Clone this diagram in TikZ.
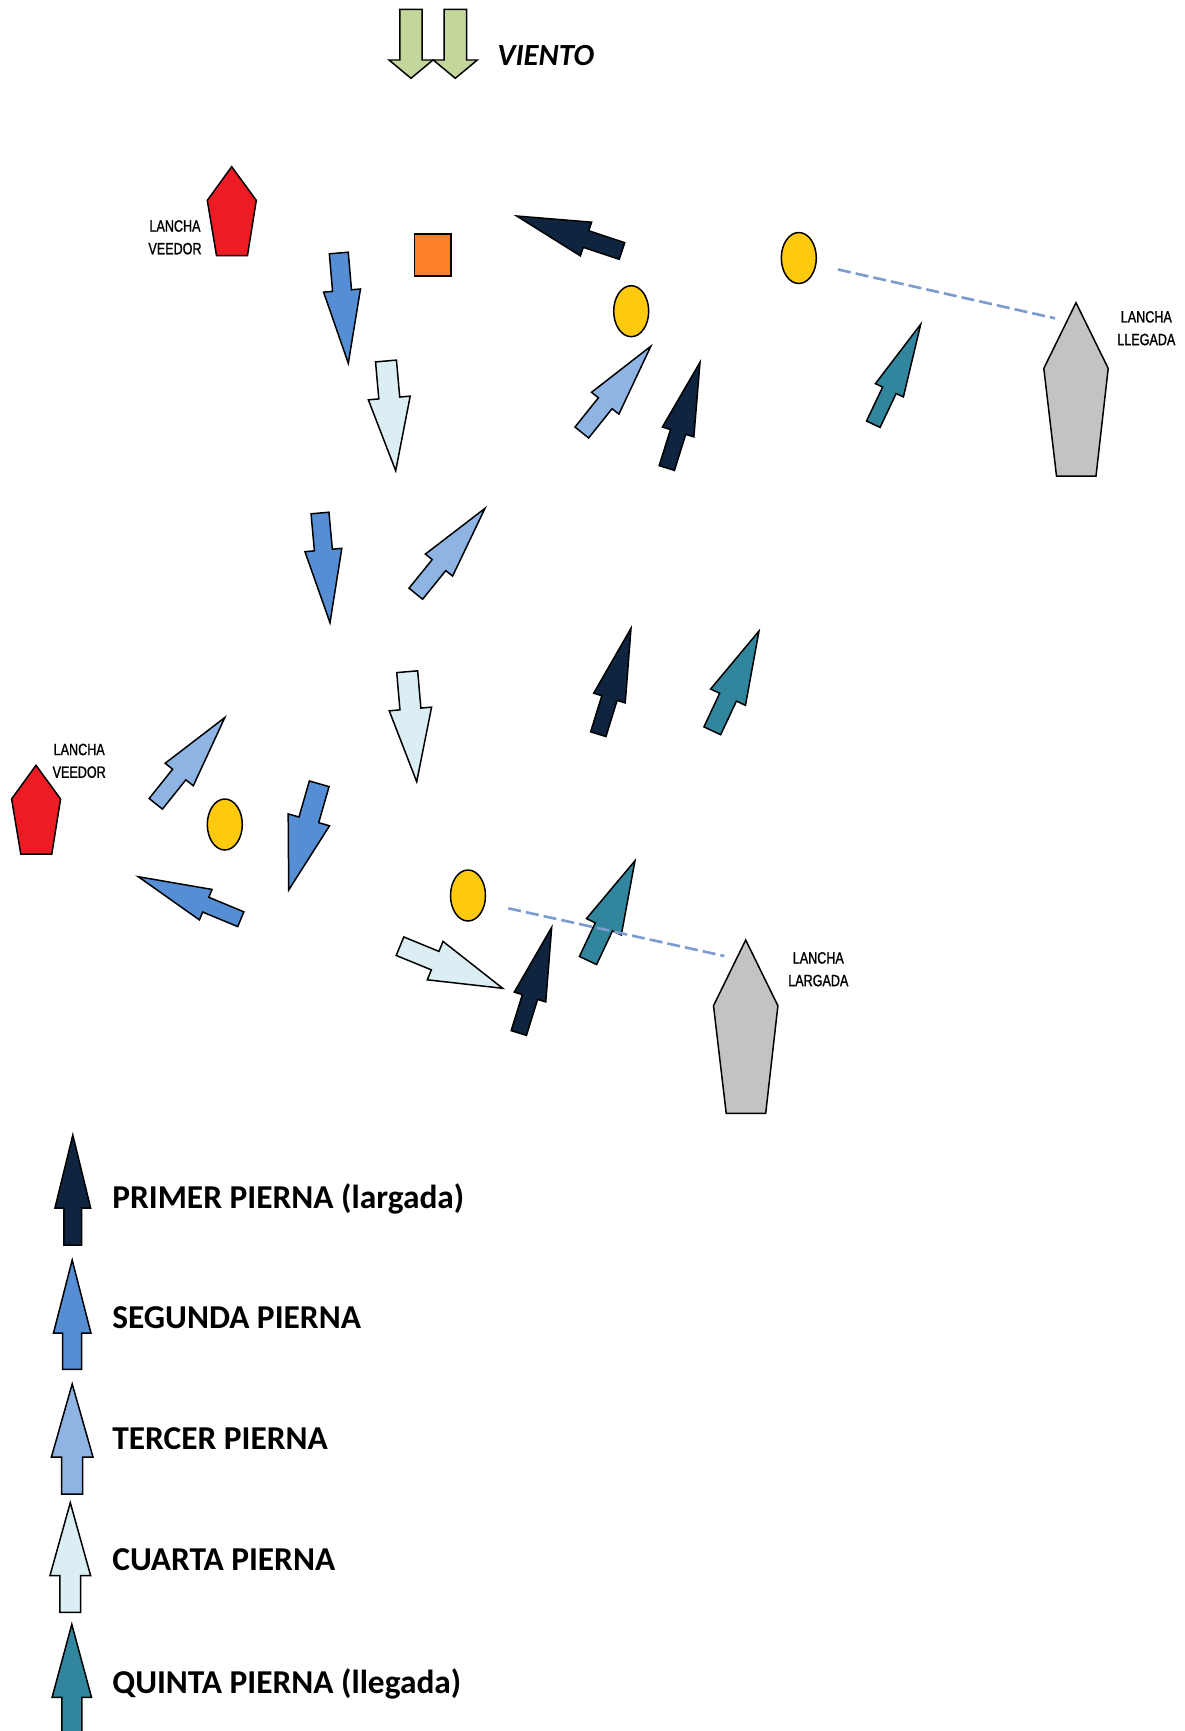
\documentclass[tikz,border=0pt]{standalone}
\usepackage{fontspec}
\setmainfont{Carlito}
\newfontfamily\narrowfont[FakeStretch=0.77, FakeBold=1.2]{Liberation Sans}
\usetikzlibrary{calc,shapes.geometric}

\definecolor{primer}{HTML}{0F243E}
\definecolor{segunda}{HTML}{558ED5}
\definecolor{tercer}{HTML}{8EB4E3}
\definecolor{cuarta}{HTML}{DBEEF4}
\definecolor{quinta}{HTML}{31859C}
\definecolor{viento}{HTML}{C3D69B}
\definecolor{veedor}{HTML}{ED1C24}
\definecolor{lancha}{HTML}{C3C3C3}
\definecolor{boya}{HTML}{FFC90E}
\definecolor{cuadro}{HTML}{FD7F2A}
\definecolor{linea}{HTML}{7C9CD0}

\begin{document}
\begin{tikzpicture}[x=0.02cm, y=-0.02cm,
		legshape/.style={draw=black, line width=0.85pt, line join=miter},
		boatshape/.style={draw=black, line width=0.85pt, fill=lancha},
		veedorshape/.style={draw=black, line width=0.85pt, fill=veedor},
		buoyshape/.style={ellipse, draw=black, line width=0.85pt, fill=boya,
			minimum width=0.7cm, minimum height=1.02cm, inner sep=0pt},
		boatlabel/.style={font=\narrowfont\fontsize{9.3}{12.9}\selectfont, align=center, inner sep=0pt},
		leglabel/.style={font=\bfseries\fontsize{19}{22}\selectfont, anchor=base west, inner sep=0pt},
		startline/.style={draw=linea, line width=1.5pt, dash pattern=on 7.4pt off 2.9pt}]

		\def\headlen{73} % length of arrow heads

		\useasboundingbox (0,0) rectangle (1184,1731);

		% Wind
		\foreach \wx in {411,455.3}
			\draw[legshape, fill=viento] (\wx-11.2,9.3) -- (\wx+11.2,9.3) -- (\wx+11.2,60) -- (\wx+22,60)
				-- (\wx,78.3) -- (\wx-22,60) -- (\wx-11.2,60) -- cycle;
		\node[font=\bfseries\itshape\fontsize{17.5}{20}\selectfont, anchor=base west, inner sep=0pt] (viento) at (497,65) {VIENTO};

		% Boats
		\foreach \bx/\by in {1076/302.7, 745.7/940}
			\draw[boatshape, shift={(\bx,\by)}] (0,0) -- (32.2,65.7) -- (20,173.3) -- (-19.5,173.3) -- (-32.2,65.7) -- cycle;
		\foreach \vx/\vy in {231.7/166.7, 36/765.3}
			\draw[veedorshape, shift={(\vx,\vy)}] (0,0) -- (24.6,33.7) -- (15.8,88.8) -- (-15.2,88.8) -- (-24.4,33.7) -- cycle;

		\node[boatlabel] (veedorA) at (175,237.3) {LANCHA\\VEEDOR};
		\node[boatlabel] (veedorB) at (79.2,760.8) {LANCHA\\VEEDOR};
		\node[boatlabel] (llegada) at (1146.3,328.2) {LANCHA\\LLEGADA};
		\node[boatlabel] (largada) at (818.3,969.2) {LANCHA\\LARGADA};

		% Marks
		\node[buoyshape] (buoyA) at (631.2,311.2) {};
		\node[buoyshape] (buoyB) at (798.8,258) {};
		\node[buoyshape] (buoyC) at (224.8,824.5) {};
		\node[buoyshape] (buoyD) at (468,895.5) {};
		\node[draw=black, line width=0.85pt, fill=cuadro, minimum width=0.734cm, minimum height=0.84cm,
			inner sep=0pt] (pinA) at (432.7,255) {};

		% legs: colour / tail x,y / tip x,y / head width / shaft width
		\foreach \col/\ax/\ay/\bx/\by/\hw/\sw in {
			primer/622/251/516.7/216/35.5/17.5,
			primer/666.8/468/700/362.3/33/16,
			primer/598.3/734.2/631/628.3/33/16,
			primer/518.8/1033/551.7/927.3/33/16,
			segunda/338.8/253/348.3/363.3/37/19,
			segunda/320/513/330/622.7/37/18,
			segunda/319.2/783.8/288.7/890/43/20.5,
			segunda/240.8/919.2/138.3/876.7/33/16,
			tercer/581.8/432.5/651/346/35/17.5,
			tercer/415.8/593.7/485/508.3/35/17.5,
			tercer/155.8/803.8/225/717.3/36/17,
			cuarta/386/361/395.7/470.7/42/21,
			cuarta/407.2/671.7/416.7/781.7/42.5/21,
			cuarta/400/946.2/502.7/988.3/41.5/20,
			quinta/873.3/424.2/920.7/324.3/31/15,
			quinta/712.3/730.8/759/631/38.5/18.5,
			quinta/588/960.5/635/860.7/38.5/19,
			primer/72.8/1245/72.8/1135/35.7/17.7,
			segunda/72.2/1369.3/72.2/1260/37.4/19,
			tercer/72.2/1494/72.2/1384/41.6/21,
			cuarta/70.3/1612.3/70.3/1502.7/40.7/20.7,
			quinta/71.8/1734/71.8/1624.3/39.4/20}{

			\pgfmathsetmacro{\aang}{atan2(\ay-\by,\bx-\ax)}
			\pgfmathsetmacro{\alen}{veclen(\bx-\ax,\by-\ay)}

			\draw[legshape, fill=\col, shift={(\ax,\ay)}, rotate=\aang]
				(0,-\sw/2) -- (\alen-\headlen,-\sw/2) -- (\alen-\headlen,-\hw/2) -- (\alen,0)
				-- (\alen-\headlen,\hw/2) -- (\alen-\headlen,\sw/2) -- (0,\sw/2) -- cycle;
		}

		% Start and finish lines
		\coordinate (finishA) at (838,269.5);
		\coordinate (finishB) at (1055,318.3);
		\coordinate (startA) at (508.3,908.3);
		\coordinate (startB) at (724.3,956);
		\draw[startline] (finishA) -- (finishB);
		\draw[startline] (startA) -- (startB);

		% Legend
		\foreach \txt/\ty [count=\i] in {{PRIMER PIERNA (largada)}/1208, {SEGUNDA PIERNA}/1328,
			{TERCER PIERNA}/1449, {CUARTA PIERNA}/1570.7, {QUINTA PIERNA (llegada)}/1693.3}
			\node[leglabel] (leg\i) at (112,\ty) {\txt};

	\end{tikzpicture}
\end{document}
